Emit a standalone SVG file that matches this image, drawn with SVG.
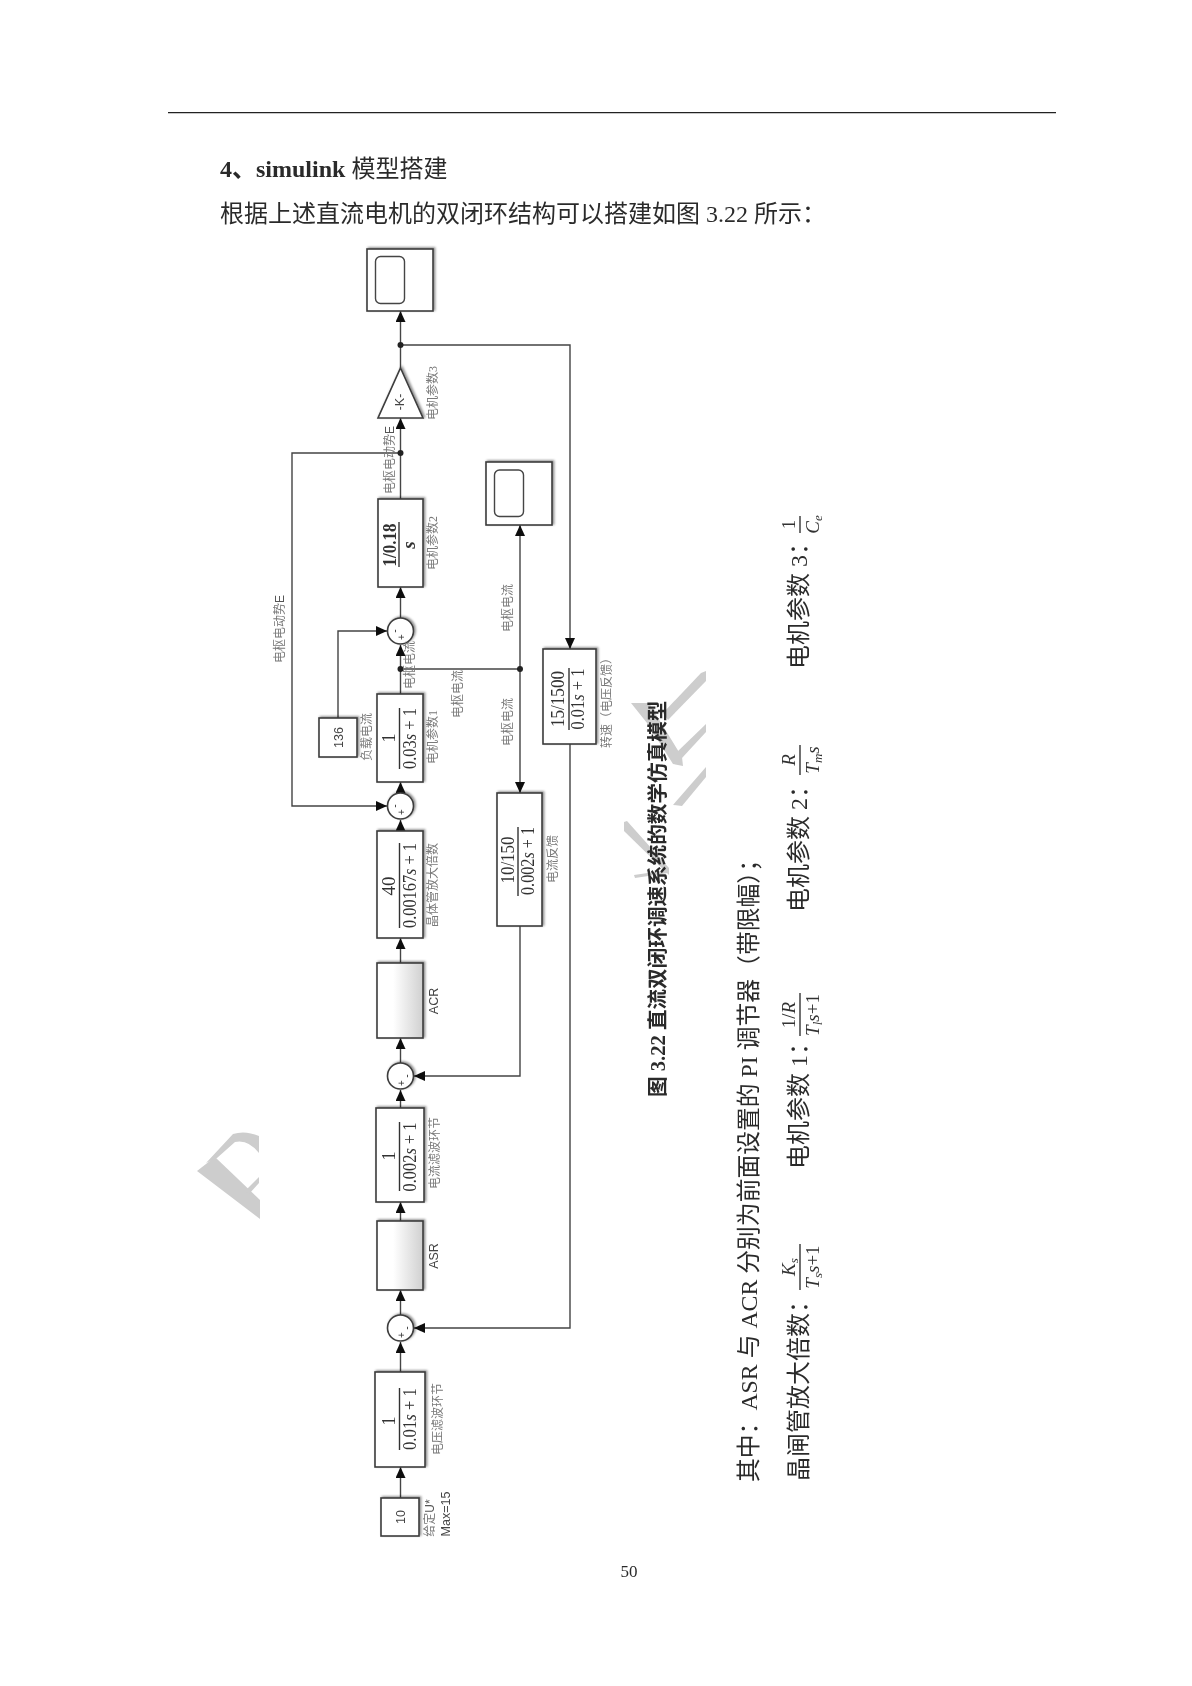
<svg xmlns="http://www.w3.org/2000/svg" width="1192" height="1686" viewBox="0 0 1192 1686">
<style>
text{font-family:"Liberation Serif","Noto Sans CJK SC",serif;fill:#2c2c2c}
.body{font-size:24px}
.bold{font-weight:bold}
.lab{font-size:12px;fill:#7a7a7a;text-anchor:middle}
.sans{font-family:"Liberation Sans","Noto Sans CJK SC",sans-serif;fill:#444;font-size:12.5px;text-anchor:middle}
.tf{font-size:19px;text-anchor:middle;fill:#333}
.sg{font-family:"Liberation Sans",sans-serif;font-size:10px;text-anchor:middle;fill:#333}
.m{font-size:19px;text-anchor:middle;fill:#333}
.i{font-style:italic}
.sub{font-size:13px;font-style:italic}
.e{font-family:"Liberation Sans",sans-serif;fill:#555}
.box{fill:#fff;stroke:#3c3c3c;stroke-width:1.6;filter:url(#sh)}
.line{fill:none;stroke:#444;stroke-width:1.4}
.bar{stroke:#333;stroke-width:1.4;fill:none}
.wm{fill:#cdcdcd}
.dot{fill:#222}
</style>
<defs>
<filter id="sh" x="-20%" y="-20%" width="140%" height="140%"><feDropShadow dx="1.5" dy="-1" stdDeviation="1.3" flood-color="#000" flood-opacity="0.45"/></filter>
<filter id="soft" x="0" y="0" width="100%" height="100%"><feGaussianBlur stdDeviation="0.4"/></filter>
<linearGradient id="sub" x1="0" y1="0" x2="1" y2="0"><stop offset="0.35" stop-color="#fff"/><stop offset="1" stop-color="#d0d0d0"/></linearGradient>
<marker id="ah" markerUnits="userSpaceOnUse" markerWidth="12" markerHeight="10" refX="11" refY="5" orient="auto"><path d="M0,0L11,5L0,10z" fill="#111"/></marker>
</defs>
<g filter="url(#soft)">
<g id="watermark">
<polygon class="wm" points="197,1171 215,1157 260,1200 260,1219"/>
<path class="wm" d="M206,1163L233,1134Q245,1130 259,1136L259,1153Q248,1139 235,1142L217,1158z"/>
<polygon class="wm" points="245,1191 259,1177 259,1183 249,1194"/>
<polygon class="wm" points="701,673 706,671 706,681 668,720 663,713"/>
<polygon class="wm" points="631,703 649,703 682,757 683,766 673,764 647,723"/>
<polygon class="wm" points="706,724 706,732 682,758 677,752"/>
<polygon class="wm" points="706,767 706,777 682,806 673,805"/>
<polygon class="wm" points="624,822 627,821 669,868 669,875 624,831"/>
<polygon class="wm" points="634,875 668,870 668,873 635,878"/>
</g>
<g id="page">
<line x1="168" y1="112" x2="1056" y2="112" stroke="#222" stroke-width="2.400"/>
<text class="body" x="220" y="177"><tspan class="bold">4、simulink</tspan> 模型搭建</text>
<text class="body" x="220" y="222">根据上述直流电机的双闭环结构可以搭建如图 3.22 所示：</text>
<text class="bold" font-size="20.6" transform="translate(665,1097) rotate(-90)">图 3.22 直流双闭环调速系统的数学仿真模型</text>
<text class="body" style="font-size:23.800px" transform="translate(757,1482) rotate(-90)">其中：ASR 与 ACR 分别为前面设置的 PI 调节器（带限幅）；</text>
<text class="body" transform="translate(807,1481) rotate(-90)">晶闸管放大倍数：</text>
<text class="body" transform="translate(807,1169) rotate(-90)">电机参数 1：</text>
<text class="body" transform="translate(807,912) rotate(-90)">电机参数 2：</text>
<text class="body" transform="translate(807,669) rotate(-90)">电机参数 3：</text>
<g id="formulas">
<line class="bar" x1="800" y1="1244" x2="800" y2="1290"/>
<text class="m i" transform="translate(795,1267) rotate(-90)">K<tspan class="sub" dy="3">s</tspan></text>
<text class="m" transform="translate(819,1267) rotate(-90)"><tspan class="i">T</tspan><tspan class="sub" dy="3">s</tspan><tspan class="i" dy="-3">s</tspan>+1</text>
<line class="bar" x1="800" y1="993" x2="800" y2="1036"/>
<text class="m" transform="translate(795,1015) rotate(-90)">1/<tspan class="i">R</tspan></text>
<text class="m" transform="translate(819,1015) rotate(-90)"><tspan class="i">T</tspan><tspan class="sub" dy="3">l</tspan><tspan class="i" dy="-3">s</tspan>+1</text>
<line class="bar" x1="800" y1="745" x2="800" y2="775"/>
<text class="m i" transform="translate(795,760) rotate(-90)">R</text>
<text class="m" transform="translate(819,760) rotate(-90)"><tspan class="i">T</tspan><tspan class="sub" dy="3">m</tspan><tspan class="i" dy="-3">s</tspan></text>
<line class="bar" x1="800" y1="516" x2="800" y2="533"/>
<text class="m" transform="translate(795,524.500) rotate(-90)">1</text>
<text class="m" transform="translate(819,524.500) rotate(-90)"><tspan class="i">C</tspan><tspan class="sub" dy="3">e</tspan></text>
</g>
<text font-size="17" x="629" y="1577" text-anchor="middle">50</text>
</g>
<g id="connectors">
<path class="line" marker-end="url(#ah)" d="M400.500,1498V1467"/>
<path class="line" marker-end="url(#ah)" d="M400.500,1372V1342"/>
<path class="line" marker-end="url(#ah)" d="M400.500,1315V1290"/>
<path class="line" marker-end="url(#ah)" d="M400.500,1221V1202"/>
<path class="line" marker-end="url(#ah)" d="M400.500,1108V1090"/>
<path class="line" marker-end="url(#ah)" d="M400.500,1063V1038"/>
<path class="line" marker-end="url(#ah)" d="M400.500,963V938"/>
<path class="line" marker-end="url(#ah)" d="M400.500,831V820"/>
<path class="line" marker-end="url(#ah)" d="M400.500,793V782"/>
<path class="line" marker-end="url(#ah)" d="M400.500,694V645"/>
<path class="line" marker-end="url(#ah)" d="M400.500,618V587"/>
<path class="line" marker-end="url(#ah)" d="M400.500,499V418"/>
<path class="line" marker-end="url(#ah)" d="M400.500,368V311"/>
<path class="line" marker-end="url(#ah)" d="M400.500,345H570V649"/>
<path class="line" marker-end="url(#ah)" d="M570,744V1328H414"/>
<path class="line" marker-end="url(#ah)" d="M400.500,453H292V806H387"/>
<path class="line" marker-end="url(#ah)" d="M338,718V631H387"/>
<path class="line" d="M400.500,669H520"/>
<path class="line" marker-end="url(#ah)" d="M520,669V525"/>
<path class="line" marker-end="url(#ah)" d="M520,669V793"/>
<path class="line" marker-end="url(#ah)" d="M520,926V1076H414"/>
<circle class="dot" cx="400.500" cy="345" r="3"/>
<circle class="dot" cx="400.500" cy="453" r="3"/>
<circle class="dot" cx="400.500" cy="669" r="3"/>
<circle class="dot" cx="520" cy="669" r="3"/>
</g>
<g id="scope1"><rect class="box" x="367" y="249" width="66" height="62"/><rect x="375.500" y="256.500" width="29" height="47" rx="5" fill="none" stroke="#444" stroke-width="1.4"/></g>
<g id="scope2"><rect class="box" x="486" y="462" width="66" height="63"/><rect x="494.500" y="470" width="29" height="46.500" rx="5" fill="none" stroke="#444" stroke-width="1.4"/></g>
<g id="gain3"><polygon class="box" points="400.500,368 423,418 378,418"/><text class="sans" transform="translate(404,402) rotate(-90)">-K-</text><text class="lab" transform="translate(437,393) rotate(-90)">电机参数3</text></g>
<g id="motor2"><rect class="box" x="378" y="499" width="45" height="88"/>
<text class="tf bold" transform="translate(396,545) rotate(-90)" textLength="43" lengthAdjust="spacingAndGlyphs">1/0.18</text><line class="bar" x1="399" y1="522" x2="399" y2="567"/><text class="tf bold i" font-size="17" transform="translate(415,545) rotate(-90)">s</text>
<text class="lab" transform="translate(437,543) rotate(-90)">电机参数2</text></g>
<g id="sum1"><circle class="box" cx="400.500" cy="631" r="13"/><text class="sg" transform="translate(398,631) rotate(-90)">-</text><text class="sg" transform="translate(404.500,637) rotate(-90)">+</text></g>
<g id="load"><rect class="box" x="319" y="718" width="38" height="39"/><text class="sans" font-size="13" transform="translate(342.500,737.500) rotate(-90)">136</text><text class="lab" transform="translate(371,737) rotate(-90)">负载电流</text></g>
<g id="motor1"><rect class="box" x="377" y="694" width="46" height="88"/>
<text class="tf" transform="translate(395,738) rotate(-90)">1</text><line class="bar" x1="399.500" y1="708" x2="399.500" y2="769"/><text class="tf" transform="translate(416,738.500) rotate(-90)" textLength="61" lengthAdjust="spacingAndGlyphs">0.03<tspan class="i">s</tspan> + 1</text>
<text class="lab" transform="translate(437,737) rotate(-90)">电机参数1</text></g>
<g id="sum2"><circle class="box" cx="400.500" cy="806" r="13"/><text class="sg" transform="translate(398,806) rotate(-90)">-</text><text class="sg" transform="translate(404.500,812) rotate(-90)">+</text></g>
<g id="thyristor"><rect class="box" x="377" y="831" width="46" height="107"/>
<text class="tf" transform="translate(395,886) rotate(-90)">40</text><line class="bar" x1="399.500" y1="843" x2="399.500" y2="928"/><text class="tf" transform="translate(416,885.500) rotate(-90)" textLength="85" lengthAdjust="spacingAndGlyphs">0.00167<tspan class="i">s</tspan> + 1</text>
<text class="lab" transform="translate(437,885) rotate(-90)">晶体管放大倍数</text></g>
<g id="ACR"><rect class="box" x="377" y="963" width="46" height="75" style="fill:url(#sub)"/><text class="sans" transform="translate(438,1001) rotate(-90)">ACR</text></g>
<g id="sum3"><circle class="box" cx="400.500" cy="1076" r="13"/><text class="sg" transform="translate(410,1076) rotate(-90)">-</text><text class="sg" transform="translate(404.500,1083) rotate(-90)">+</text></g>
<g id="current-filter"><rect class="box" x="376" y="1108" width="48" height="94"/>
<text class="tf" transform="translate(395,1156) rotate(-90)">1</text><line class="bar" x1="399.500" y1="1122" x2="399.500" y2="1191"/><text class="tf" transform="translate(416,1157) rotate(-90)" textLength="69" lengthAdjust="spacingAndGlyphs">0.002<tspan class="i">s</tspan> + 1</text>
<text class="lab" transform="translate(439,1153) rotate(-90)">电流滤波环节</text></g>
<g id="ASR"><rect class="box" x="377" y="1221" width="46" height="69" style="fill:url(#sub)"/><text class="sans" transform="translate(438,1256) rotate(-90)">ASR</text></g>
<g id="sum4"><circle class="box" cx="400.500" cy="1328" r="13"/><text class="sg" transform="translate(410,1328) rotate(-90)">-</text><text class="sg" transform="translate(404.500,1335) rotate(-90)">+</text></g>
<g id="voltage-filter"><rect class="box" x="375" y="1372" width="50" height="95"/>
<text class="tf" transform="translate(395,1421) rotate(-90)">1</text><line class="bar" x1="399.500" y1="1388" x2="399.500" y2="1450"/><text class="tf" transform="translate(416,1419) rotate(-90)" textLength="62" lengthAdjust="spacingAndGlyphs">0.01<tspan class="i">s</tspan> + 1</text>
<text class="lab" transform="translate(442,1419) rotate(-90)">电压滤波环节</text></g>
<g id="reference"><rect class="box" x="381" y="1498" width="38" height="38"/><text class="sans" font-size="13" transform="translate(405,1517) rotate(-90)">10</text>
<text class="lab" transform="translate(434,1518) rotate(-90)">给定<tspan class="e">U*</tspan></text><text class="sans" transform="translate(450,1514) rotate(-90)">Max=15</text></g>
<g id="current-fb"><rect class="box" x="497" y="793" width="45" height="133"/>
<text class="tf" transform="translate(514,860) rotate(-90)" textLength="47" lengthAdjust="spacingAndGlyphs">10/150</text><line class="bar" x1="518" y1="827" x2="518" y2="896"/><text class="tf" transform="translate(534,861) rotate(-90)" textLength="68" lengthAdjust="spacingAndGlyphs">0.002<tspan class="i">s</tspan> + 1</text>
<text class="lab" transform="translate(557,859) rotate(-90)">电流反馈</text></g>
<g id="speed-fb"><rect class="box" x="543" y="649" width="53" height="95"/>
<text class="tf" transform="translate(564,699) rotate(-90)" textLength="56" lengthAdjust="spacingAndGlyphs">15/1500</text><line class="bar" x1="569" y1="668" x2="569" y2="730"/><text class="tf" transform="translate(584,699) rotate(-90)" textLength="61" lengthAdjust="spacingAndGlyphs">0.01<tspan class="i">s</tspan> + 1</text>
<text class="lab" transform="translate(611,700) rotate(-90)">转速（电压反馈）</text></g>
<g id="signal-labels">
<text class="lab" transform="translate(394,460) rotate(-90)">电枢电动势<tspan class="e">E</tspan></text>
<text class="lab" transform="translate(284,629) rotate(-90)">电枢电动势<tspan class="e">E</tspan></text>
<text class="lab" transform="translate(512,608) rotate(-90)">电枢电流</text>
<text class="lab" transform="translate(414,665) rotate(-90)">电枢电流</text>
<text class="lab" transform="translate(462,694) rotate(-90)">电枢电流</text>
<text class="lab" transform="translate(512,722) rotate(-90)">电枢电流</text>
</g>
</g>
</svg>
